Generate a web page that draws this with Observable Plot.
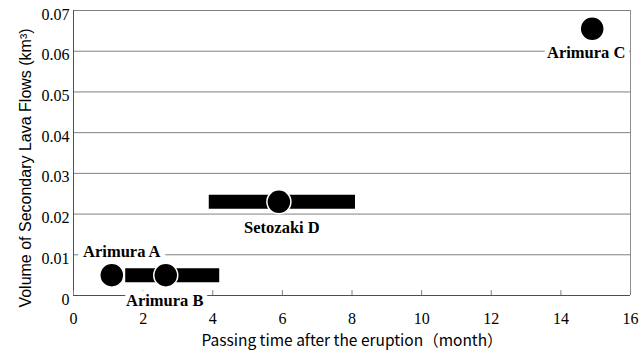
<!DOCTYPE html>
<html><head><meta charset="utf-8">
<script src="https://cdn.jsdelivr.net/npm/d3@7"></script>
<script src="https://cdn.jsdelivr.net/npm/@observablehq/plot@0.6"></script>
<style>body{margin:0;background:#fff}</style>
</head><body><div id="chart"></div>
<script>
const names = ["Arimura A", "Arimura B", "Setozaki D", "Arimura C"];
const months = [1.1, 2.65, 5.9, 14.9];
const volumes = [0.005, 0.005, 0.023, 0.0655];
const rangeStart = [null, 1.5, 3.9, null];
const rangeEnd = [null, 4.2, 8.1, null];
const xTicks = [0, 2, 4, 6, 8, 10, 12, 14, 16];
const yTicks = [0, 0.01, 0.02, 0.03, 0.04, 0.05, 0.06, 0.07];
const xTitle = "Passing time after the eruption（month）";
const yTitle = "Volume of Secondary Lava Flows (km³)";

const rows = names.map((name, i) => ({name, month: months[i], volume: volumes[i], start: rangeStart[i], end: rangeEnd[i]}));
const bars = rows.filter(d => d.start != null);
const labelShift = {"Arimura A": [10, -23], "Arimura B": [-1, 26], "Setozaki D": [3, 26], "Arimura C": [-6, 24]};

const serif = "Liberation Serif";
const labelMarks = rows.map(r => Plot.text([r], {
  x: "month", y: "volume", text: "name",
  dx: labelShift[r.name][0], dy: labelShift[r.name][1],
  fontFamily: serif, fontSize: 16.5, fontWeight: "bold", fill: "black",
  stroke: "white", strokeWidth: 10, lineAnchor: "middle"
}));

const chart = Plot.plot({
  width: 644, height: 355,
  marginLeft: 73, marginRight: 14, marginTop: 10, marginBottom: 60,
  x: {domain: [0, 16]},
  y: {domain: [0, 0.07]},
  style: {background: "white", overflow: "visible", fontFamily: serif},
  marks: [
    Plot.ruleY(yTicks, {stroke: "#808080", strokeWidth: 1}),
    Plot.ruleX([16], {stroke: "#909090"}),
    Plot.ruleX([0], {stroke: "#505050"}),
    Plot.ruleY([0], {stroke: "#505050"}),
    Plot.ruleX(xTicks, {y1: 0, y2: 0.0012, stroke: "#808080"}),
    Plot.axisY({ticks: yTicks, tickSize: 0, tickPadding: 4, label: null, dy: 4,
      tickFormat: d => d === 0 ? "0" : d.toFixed(2),
      fontFamily: serif, fontSize: 16, fill: "black"}),
    Plot.axisX({ticks: xTicks, tickSize: 0, tickPadding: 17, label: null,
      tickFormat: d => String(d), fontFamily: serif, fontSize: 16, fill: "black"}),
    Plot.text([yTitle], {frameAnchor: "left", textAnchor: "middle", rotate: -90, dx: -48, dy: 15, text: d => d,
      fontFamily: "Liberation Sans", fontSize: 16, fill: "black"}),
    Plot.text([xTitle], {frameAnchor: "bottom", textAnchor: "middle", dy: 50, text: d => d,
      fontFamily: "Noto Sans CJK JP", fontSize: 15.5, fill: "black"}),
    Plot.ruleY(bars, {x1: "start", x2: "end", y: "volume", stroke: "black", strokeWidth: 14, strokeLinecap: "butt"}),
    Plot.dot(rows, {x: "month", y: "volume", r: 12, fill: "black", stroke: "white", strokeWidth: 1.5}),
    ...labelMarks
  ]
});
document.getElementById("chart").append(chart);
</script>
</body></html>
